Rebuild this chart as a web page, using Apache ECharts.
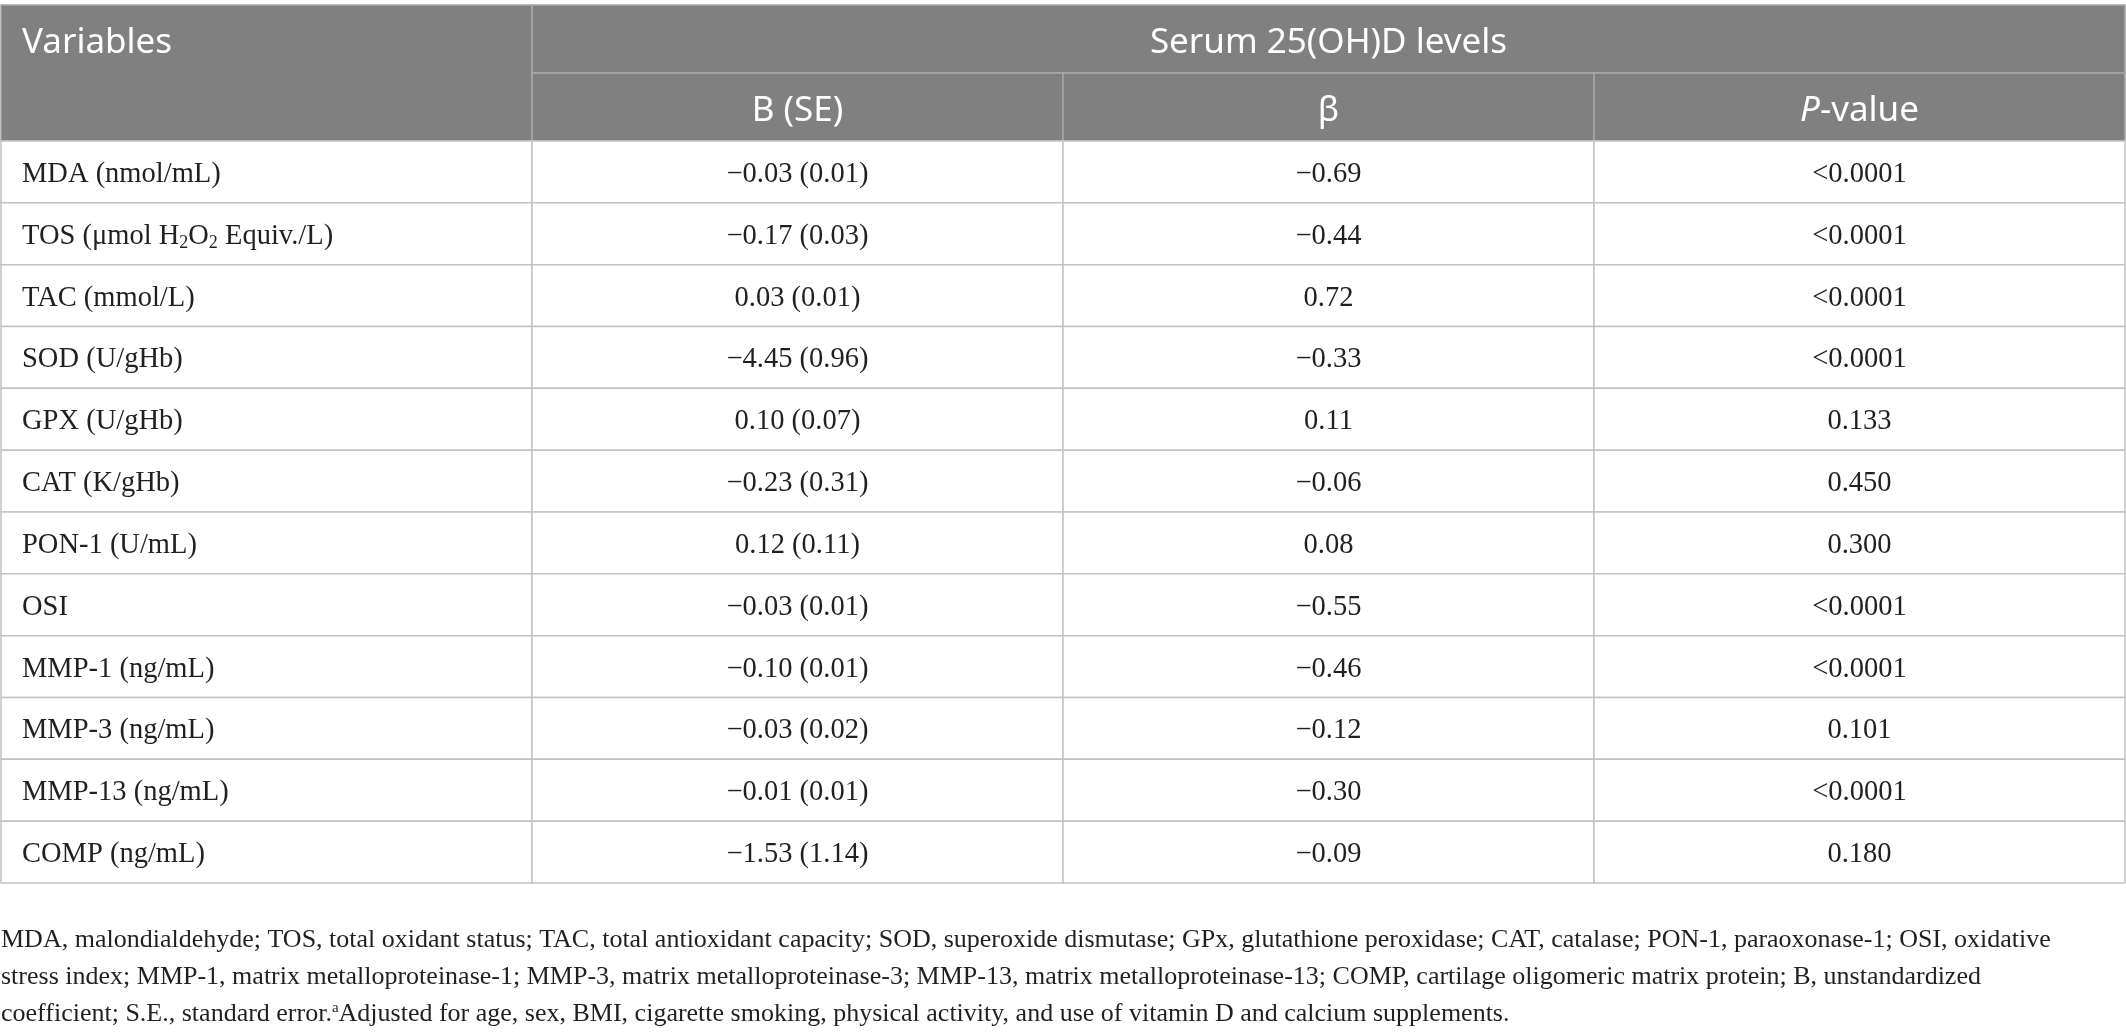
<!DOCTYPE html>
<html>
<head>
<meta charset="utf-8">
<script src="https://cdn.jsdelivr.net/npm/echarts@6/dist/echarts.min.js"></script>
<style>
html, body { margin: 0; padding: 0; background: #fff; }
#table { width: 2126px; height: 1036px; }
</style>
</head>
<body>
<div id="table"></div>
<script>
var variables = [
  'MDA (nmol/mL)',
  'TOS (μmol H{sub|2}O{sub|2} Equiv./L)',
  'TAC (mmol/L)',
  'SOD (U/gHb)',
  'GPX (U/gHb)',
  'CAT (K/gHb)',
  'PON-1 (U/mL)',
  'OSI',
  'MMP-1 (ng/mL)',
  'MMP-3 (ng/mL)',
  'MMP-13 (ng/mL)',
  'COMP (ng/mL)'
];
var bValues = [-0.03, -0.17, 0.03, -4.45, 0.10, -0.23, 0.12, -0.03, -0.10, -0.03, -0.01, -1.53];
var seValues = [0.01, 0.03, 0.01, 0.96, 0.07, 0.31, 0.11, 0.01, 0.01, 0.02, 0.01, 1.14];
var betaValues = [-0.69, -0.44, 0.72, -0.33, 0.11, -0.06, 0.08, -0.55, -0.46, -0.12, -0.30, -0.09];
var pValues = ['<0.0001', '<0.0001', '<0.0001', '<0.0001', '0.133', '0.450', '0.300', '<0.0001', '<0.0001', '0.101', '<0.0001', '0.180'];
var columns = ['Variables', 'B (SE)', 'β', '{i|P}-value'];
var groupTitle = 'Serum 25(OH)D levels';
var footnote = [
  'MDA, malondialdehyde; TOS, total oxidant status; TAC, total antioxidant capacity; SOD, superoxide dismutase; GPx, glutathione peroxidase; CAT, catalase; PON-1, paraoxonase-1; OSI, oxidative',
  'stress index; MMP-1, matrix metalloproteinase-1; MMP-3, matrix metalloproteinase-3; MMP-13, matrix metalloproteinase-13; COMP, cartilage oligomeric matrix protein; B, unstandardized',
  'coefficient; S.E., standard error.{sup|a}Adjusted for age, sex, BMI, cigarette smoking, physical activity, and use of vitamin D and calcium supplements.'
];

var chart = echarts.init(document.getElementById('table'));

var serif = '"Liberation Serif", "Times New Roman", serif';
var sans = '"Noto Sans", sans-serif';
var ink = '#231f20';

function num(v) {
  return (v < 0 ? '\u2212' : '') + Math.abs(v).toFixed(2);
}

function cellText(col, row) {
  if (col === 0) return variables[row];
  if (col === 1) return num(bValues[row]) + ' (' + num(seValues[row]) + ')';
  if (col === 2) return num(betaValues[row]);
  return pValues[row];
}

// header cells: [colStart, colEnd, rowStart, rowEnd, text]
var headerCells = [
  [0, 1, 0, 2, columns[0]],
  [1, 4, 0, 1, groupTitle],
  [1, 2, 1, 2, columns[1]],
  [2, 3, 1, 2, columns[2]],
  [3, 4, 1, 2, columns[3]]
];

var bodyCells = [];
variables.forEach(function(v, row) {
  for (var col = 0; col < columns.length; col++) {
    bodyCells.push([col, row]);
  }
});

function renderHeader(params, api) {
  var c0 = api.value(0), c1 = api.value(1), r0 = api.value(2), r1 = api.value(3);
  var p0 = api.coord([c0, r0]);
  var p1 = api.coord([c1, r1]);
  var pRow = api.coord([c0, r0 + 1]);
  var left = c0 === 0;
  var text = headerCells[params.dataIndex][4];
  return {
    type: 'group',
    children: [{
      type: 'rect',
      shape: { x: p0[0], y: p0[1], width: p1[0] - p0[0], height: p1[1] - p0[1] },
      style: { fill: '#808080', stroke: '#a8a8a8', lineWidth: 1.5 }
    }, {
      type: 'text',
      style: {
        x: left ? p0[0] + 21 : (p0[0] + p1[0]) / 2,
        y: (p0[1] + pRow[1]) / 2 + 4,
        text: text,
        align: left ? 'left' : 'center',
        verticalAlign: 'middle',
        fill: '#ffffff',
        fontFamily: sans,
        fontSize: 35,
        rich: {
          i: { fontFamily: sans, fontSize: 35, fontStyle: 'italic', fill: '#ffffff' }
        }
      }
    }]
  };
}

function renderBody(params, api) {
  var col = api.value(0), row = api.value(1);
  var c = api.coord([col, row]);
  var s = api.size([1, 1]);
  var left = col === 0;
  return {
    type: 'group',
    children: [{
      type: 'rect',
      shape: { x: c[0] - s[0] / 2, y: c[1] - s[1] / 2, width: s[0], height: s[1] },
      style: { fill: '#ffffff', stroke: '#c2c2c2', lineWidth: 1.5 }
    }, {
      type: 'text',
      style: {
        x: left ? c[0] - s[0] / 2 + 21 : c[0],
        y: c[1] + 2.5,
        text: cellText(col, row),
        align: left ? 'left' : 'center',
        verticalAlign: 'middle',
        fill: ink,
        fontFamily: serif,
        fontSize: 28.5,
        rich: {
          sub: { fontFamily: serif, fontSize: 18, fill: ink, padding: [14, 0, 0, 0] }
        }
      }
    }]
  };
}

chart.setOption({
  animation: false,
  backgroundColor: '#ffffff',
  grid: [
    { left: 1, right: 1, top: 5, height: 136 },
    { left: 1, right: 1, top: 141, height: 742 }
  ],
  xAxis: [
    { gridIndex: 0, type: 'value', min: 0, max: 4, show: false },
    { gridIndex: 1, type: 'category', data: columns, show: false }
  ],
  yAxis: [
    { gridIndex: 0, type: 'value', min: 0, max: 2, inverse: true, show: false },
    { gridIndex: 1, type: 'category', data: variables, inverse: true, show: false }
  ],
  series: [{
    type: 'custom',
    xAxisIndex: 0,
    yAxisIndex: 0,
    data: headerCells.map(function(h) { return [h[0], h[1], h[2], h[3]]; }),
    renderItem: renderHeader
  }, {
    type: 'custom',
    xAxisIndex: 1,
    yAxisIndex: 1,
    data: bodyCells,
    renderItem: renderBody
  }],
  graphic: [{
    type: 'text',
    left: 1,
    top: 922,
    style: {
      text: footnote.join('\n'),
      fill: ink,
      fontFamily: serif,
      fontSize: 26,
      lineHeight: 37,
      rich: {
        sup: { fontFamily: serif, fontSize: 15, fill: ink, lineHeight: 37, padding: [0, 0, 12, 0] }
      }
    }
  }]
});
</script>
</body>
</html>
